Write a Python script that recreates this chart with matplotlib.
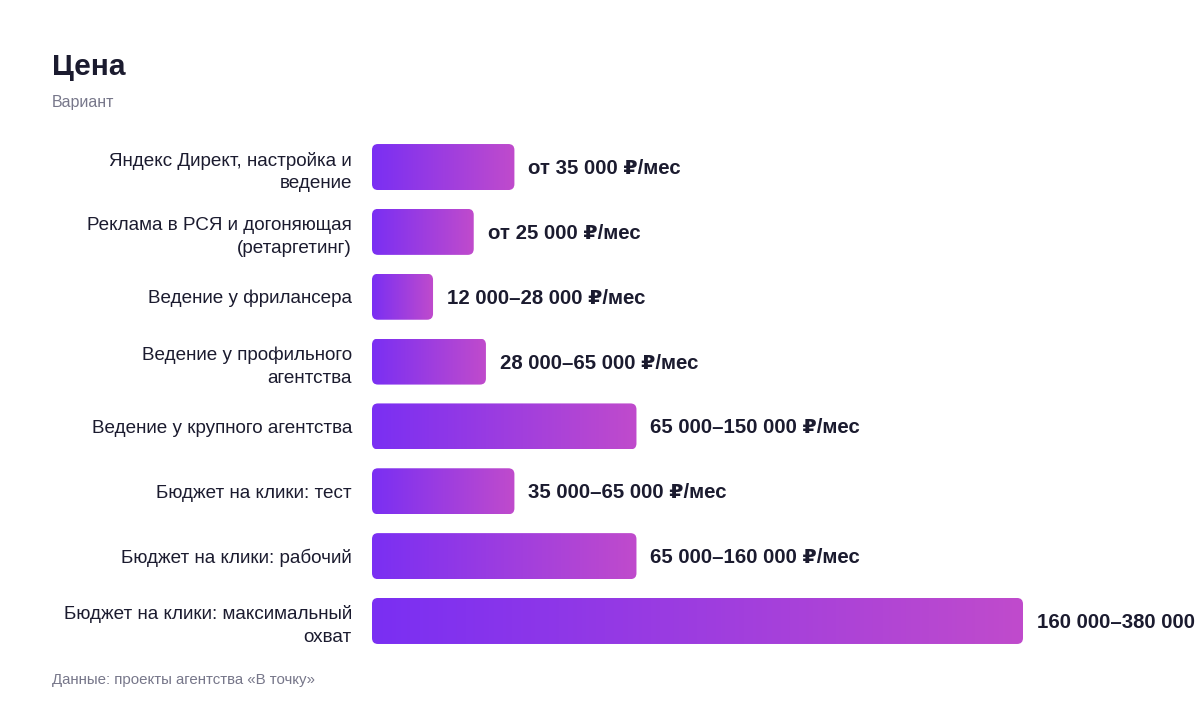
import numpy as np
import matplotlib.pyplot as plt
from matplotlib.patches import FancyBboxPatch
from matplotlib.colors import LinearSegmentedColormap

plt.rcParams['font.family'] = ['Liberation Sans', 'DejaVu Sans']

categories = [
    'Яндекс Директ, настройка и\nведение',
    'Реклама в РСЯ и догоняющая\n(ретаргетинг)',
    'Ведение у фрилансера',
    'Ведение у профильного\nагентства',
    'Ведение у крупного агентства',
    'Бюджет на клики: тест',
    'Бюджет на клики: рабочий',
    'Бюджет на клики: максимальный\nохват',
]
values = [35000, 25000, 15000, 28000, 65000, 35000, 65000, 160000]
value_labels = [
    'от 35 000 ₽/мес',
    'от 25 000 ₽/мес',
    '12 000–28 000 ₽/мес',
    '28 000–65 000 ₽/мес',
    '65 000–150 000 ₽/мес',
    '35 000–65 000 ₽/мес',
    '65 000–160 000 ₽/мес',
    '160 000–380 000 ₽/мес',
]

dark = '#1b1b2f'
grey = '#77778a'
cmap = LinearSegmentedColormap.from_list('bar', ['#7a2ff3', '#c04bcc'])

W, H = 1200, 712
fig = plt.figure(figsize=(W / 100, H / 100), dpi=100)
ax_top, ax_bot = 134.6, 653.4
ax = fig.add_axes([372 / W, 1 - ax_bot / H, 828 / W, (ax_bot - ax_top) / H])

xmax = 160000 * 828 / 651
ax.set_xlim(0, xmax)
ax.set_ylim(len(values) - 0.5, -0.5)

xpp = xmax / 828              # data units per pixel in x
ypp = len(values) / (ax_bot - ax_top)
bar_h = 46 * ypp
grad = np.linspace(0, 1, 256).reshape(1, -1)

for i, v in enumerate(values):
    patch = FancyBboxPatch((0, i - bar_h / 2), v, bar_h,
                           boxstyle='round,pad=0,rounding_size=%f' % (6 * xpp),
                           mutation_aspect=ypp / xpp,
                           facecolor='none', edgecolor='none')
    ax.add_patch(patch)
    im = ax.imshow(grad, cmap=cmap, aspect='auto',
                   extent=(0, v, i + bar_h / 2, i - bar_h / 2), interpolation='bilinear')
    im.set_clip_path(patch)
    ax.text(v + 14 * xpp, i + 1.5 * ypp, value_labels[i], va='center', ha='left',
            fontsize=14.7, fontweight='bold', color=dark, clip_on=False)

ax.set_xlim(0, xmax)
ax.set_ylim(len(values) - 0.5, -0.5)
ax.set_yticks(range(len(categories)))
ax.set_yticklabels(categories, fontsize=13.6, color=dark, linespacing=1.45)
ax.tick_params(axis='y', length=0, pad=14.4)
ax.set_xticks([])
for s in ax.spines.values():
    s.set_visible(False)

fig.text(52 / W, 1 - 67 / H, 'Цена', fontsize=21.5, fontweight='bold',
         color=dark, va='center', ha='left')
fig.text(52 / W, 1 - 102 / H, 'Вариант', fontsize=11.5, color=grey,
         va='center', ha='left')
fig.text(52 / W, 1 - 680 / H, 'Данные: проекты агентства «В точку»', fontsize=10.8,
         color=grey, va='center', ha='left')

fig.savefig('out.png', dpi=100)
